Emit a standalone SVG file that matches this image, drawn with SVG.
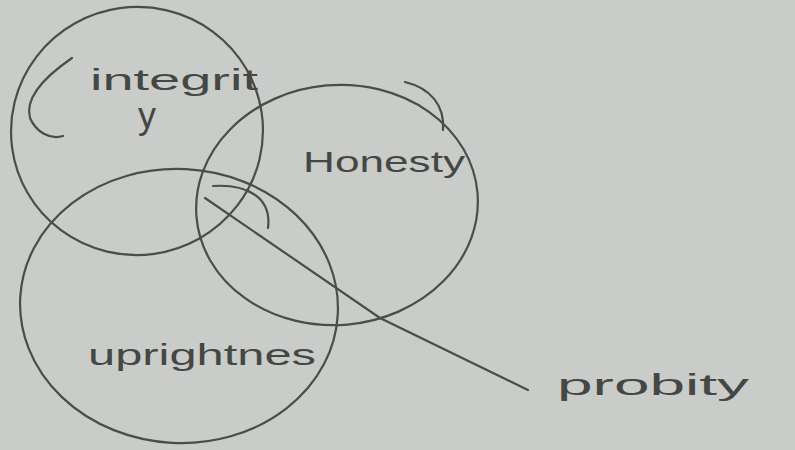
<svg xmlns="http://www.w3.org/2000/svg" width="795" height="450" viewBox="0 0 795 450">
<style>
.s{fill:none;stroke:#4b4d4b;stroke-width:2.2;stroke-linecap:round}
.t{font-family:"Liberation Sans",Arial,sans-serif;fill:#454745;font-size:30px}
</style>
<rect width="795" height="450" fill="#c9ccc8"/>
<g id="integrity">
<ellipse class="s" cx="137" cy="131" rx="126" ry="124" transform="rotate(-8 137 131)"/>
<path class="s" d="M72 58 C40 80 25 100 30 118 C36 132 50 140 63 136"/>
<text class="t" x="90" y="90" textLength="168" lengthAdjust="spacingAndGlyphs">integrit</text>
<text class="t" x="138" y="128" style="font-size:36px">y</text>
</g>
<g id="honesty">
<ellipse class="s" cx="337" cy="205" rx="141" ry="120" transform="rotate(-5 337 205)"/>
<path class="s" d="M405 82 C430 88 445 105 443 130"/>
<text class="t" x="303" y="172" textLength="162" lengthAdjust="spacingAndGlyphs">Honesty</text>
</g>
<g id="uprightness">
<ellipse class="s" cx="179" cy="306" rx="159" ry="137" transform="rotate(3 179 306)"/>
<path class="s" d="M213 186 C245 184 272 196 268 228"/>
<text class="t" x="88" y="365" textLength="228" lengthAdjust="spacingAndGlyphs">uprightnes</text>
</g>
<g id="connectors">
<path class="s" d="M205 198 L380 318 L528 390"/>
</g>
<g id="probity">
<text class="t" x="557" y="395" textLength="192" lengthAdjust="spacingAndGlyphs">probity</text>
</g>
</svg>
